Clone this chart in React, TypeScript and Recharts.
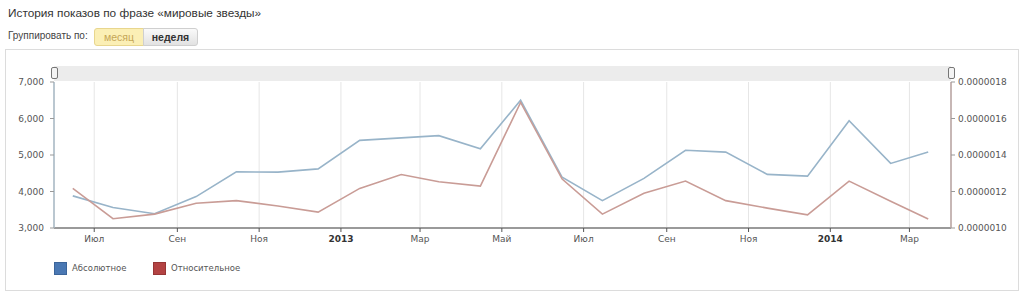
import React from "react";
import { LineChart, Line, XAxis, YAxis, CartesianGrid } from "recharts";

// month of each point (year, month index 0-11)
const MONTHS: [number, number][] = [
    [2012, 5], [2012, 6], [2012, 7], [2012, 8], [2012, 9], [2012, 10], [2012, 11],
    [2013, 0], [2013, 1], [2013, 2], [2013, 3], [2013, 4], [2013, 5], [2013, 6],
    [2013, 7], [2013, 8], [2013, 9], [2013, 10], [2013, 11],
    [2014, 0], [2014, 1], [2014, 2],
];

const ABSOLUTE = [
    3880, 3560, 3390, 3860, 4540, 4530, 4620,
    5400, 5470, 5530, 5170, 6500, 4390, 3750,
    4360, 5130, 5080, 4470, 4420,
    5940, 4770, 5080,
];

// relative share, in millionths
const RELATIVE = [
    1.217, 1.051, 1.076, 1.136, 1.15, 1.121, 1.087,
    1.217, 1.293, 1.253, 1.23, 1.688, 1.268, 1.076,
    1.19, 1.257, 1.15, 1.109, 1.072,
    1.257, 1.147, 1.049,
];

const X_TICK_MONTHS: [number, number][] = [
    [2012, 6], [2012, 8], [2012, 10], [2013, 0], [2013, 2], [2013, 4],
    [2013, 6], [2013, 8], [2013, 10], [2014, 0], [2014, 2],
];
const X_TICK_LABELS = ["Июл", "Сен", "Ноя", "2013", "Мар", "Май", "Июл", "Сен", "Ноя", "2014", "Мар"];

const LEFT_TICKS = [3000, 4000, 5000, 6000, 7000];
const RIGHT_TICKS = [1.0, 1.2, 1.4, 1.6, 1.8];

const X_DOMAIN = [Date.UTC(2012, 5, 1), Date.UTC(2014, 3, 1)];

const data = MONTHS.map(([y, m], i) => ({
    t: Date.UTC(y, m, 15),
    abs: ABSOLUTE[i],
    rel: RELATIVE[i] * 1e-6,
}));

const xTicks = X_TICK_MONTHS.map(([y, m]) => Date.UTC(y, m, 1));
const rightTicks = RIGHT_TICKS.map(v => v * 1e-6);

const FONT = "'DejaVu Sans', Verdana, sans-serif";
const UI_FONT = "'Liberation Sans', Arial, sans-serif";

function XTick(props: any) {
    const { x, y, payload } = props;
    const idx = xTicks.indexOf(payload.value);
    const label = X_TICK_LABELS[idx] ?? "";
    const isYear = /^\d{4}$/.test(label);
    return (
        <text
            x={x}
            y={y}
            dy="0.71em"
            textAnchor="middle"
            fontSize={9}
            fontFamily={FONT}
            fontWeight={isYear ? "bold" : "normal"}
            fill={isYear ? "#333" : "#555"}
        >
            {label}
        </text>
    );
}

function Handle({ left }: { left: number }) {
    return (
        <div
            style={{
                position: "absolute",
                left,
                top: 67,
                width: 5,
                height: 10,
                border: "1px solid #777",
                borderRadius: 2,
                background: "#f4f4f4",
            }}
        />
    );
}

export default function App() {
    return (
        <div style={{ position: "absolute", left: 0, top: 0, width: 1024, height: 293, background: "#fff", overflow: "hidden" }}>
            <div style={{ position: "absolute", left: 8, top: 6, fontFamily: UI_FONT, fontSize: 11.8, color: "#333", whiteSpace: "nowrap" }}>
                История показов по фразе «мировые звезды»
            </div>
            <div style={{ position: "absolute", left: 8, top: 30, fontFamily: UI_FONT, fontSize: 10, color: "#444", whiteSpace: "nowrap" }}>
                Группировать по:
            </div>
            <div
                style={{
                    position: "absolute", left: 94, top: 28, width: 48, height: 16,
                    background: "#fbefb5", border: "1px solid #e8d68e", borderRadius: "3px 0 0 3px",
                    fontFamily: UI_FONT, fontSize: 10.5, color: "#c5a656", textAlign: "center", lineHeight: "16px",
                }}
            >
                месяц
            </div>
            <div
                style={{
                    position: "absolute", left: 143, top: 28, width: 53, height: 16,
                    background: "linear-gradient(#fafafa, #e2e2e2)", border: "1px solid #cfcfcf", borderRadius: "0 3px 3px 0",
                    fontFamily: UI_FONT, fontSize: 10.5, fontWeight: "bold", color: "#333", textAlign: "center", lineHeight: "16px",
                }}
            >
                неделя
            </div>

            <div style={{ position: "absolute", left: 5, top: 49, width: 1012, height: 240, border: "1px solid #dcdcdc" }} />

            <div style={{ position: "absolute", left: 0, top: 0 }}>
                <LineChart width={1024} height={293} data={data} margin={{ top: 82, right: 0, bottom: 0, left: 0 }}>
                    <CartesianGrid horizontal={false} stroke="#e6e6e6" yAxisId="left" />
                    <XAxis
                        dataKey="t"
                        type="number"
                        domain={X_DOMAIN}
                        ticks={xTicks}
                        allowDataOverflow
                        height={65}
                        tick={<XTick />}
                        tickSize={4}
                        tickMargin={4}
                        stroke="#9a9a9a"
                        axisLine={{ stroke: "#9a9a9a", strokeWidth: 2 }}
                        tickLine={{ stroke: "#555" }}
                        interval={0}
                    />
                    <YAxis
                        yAxisId="left"
                        domain={[3000, 7000]}
                        ticks={LEFT_TICKS}
                        allowDataOverflow
                        width={54}
                        tickSize={4}
                        tickMargin={6}
                        tickFormatter={(v: number) => v.toLocaleString("en-US")}
                        tick={{ fontSize: 9, fontFamily: FONT, fill: "#555" }}
                        axisLine={{ stroke: "#a7b8c5", strokeWidth: 1.5 }}
                        tickLine={{ stroke: "#999" }}
                    />
                    <YAxis
                        yAxisId="right"
                        orientation="right"
                        domain={[rightTicks[0], rightTicks[rightTicks.length - 1]]}
                        ticks={rightTicks}
                        allowDataOverflow
                        width={73}
                        tickSize={4}
                        tickMargin={3}
                        tickFormatter={(v: number) => v.toFixed(7)}
                        tick={{ fontSize: 9, fontFamily: FONT, fill: "#555", textAnchor: "start" }}
                        axisLine={{ stroke: "#b9a3a0", strokeWidth: 1.5 }}
                        tickLine={{ stroke: "#999" }}
                    />
                    <Line
                        yAxisId="left"
                        dataKey="abs"
                        stroke="#98b4c9"
                        strokeWidth={1.6}
                        dot={false}
                        isAnimationActive={false}
                    />
                    <Line
                        yAxisId="right"
                        dataKey="rel"
                        stroke="#c99c96"
                        strokeWidth={1.6}
                        dot={false}
                        isAnimationActive={false}
                    />
                </LineChart>
            </div>

            {/* scroll band above plot */}
            <div style={{ position: "absolute", left: 54, top: 66, width: 897, height: 15, background: "#ececec" }} />
            <Handle left={51} />
            <Handle left={948} />

            {/* legend */}
            <div style={{ position: "absolute", left: 54, top: 262, width: 13, height: 13, background: "#4a78b3", border: "1px solid #3c659a", boxSizing: "border-box" }} />
            <div style={{ position: "absolute", left: 72, top: 263, fontFamily: FONT, fontSize: 8.5, color: "#555" }}>Абсолютное</div>
            <div style={{ position: "absolute", left: 153, top: 262, width: 13, height: 13, background: "#b34343", border: "1px solid #973636", boxSizing: "border-box" }} />
            <div style={{ position: "absolute", left: 171, top: 263, fontFamily: FONT, fontSize: 8.5, color: "#555" }}>Относительное</div>
        </div>
    );
}
